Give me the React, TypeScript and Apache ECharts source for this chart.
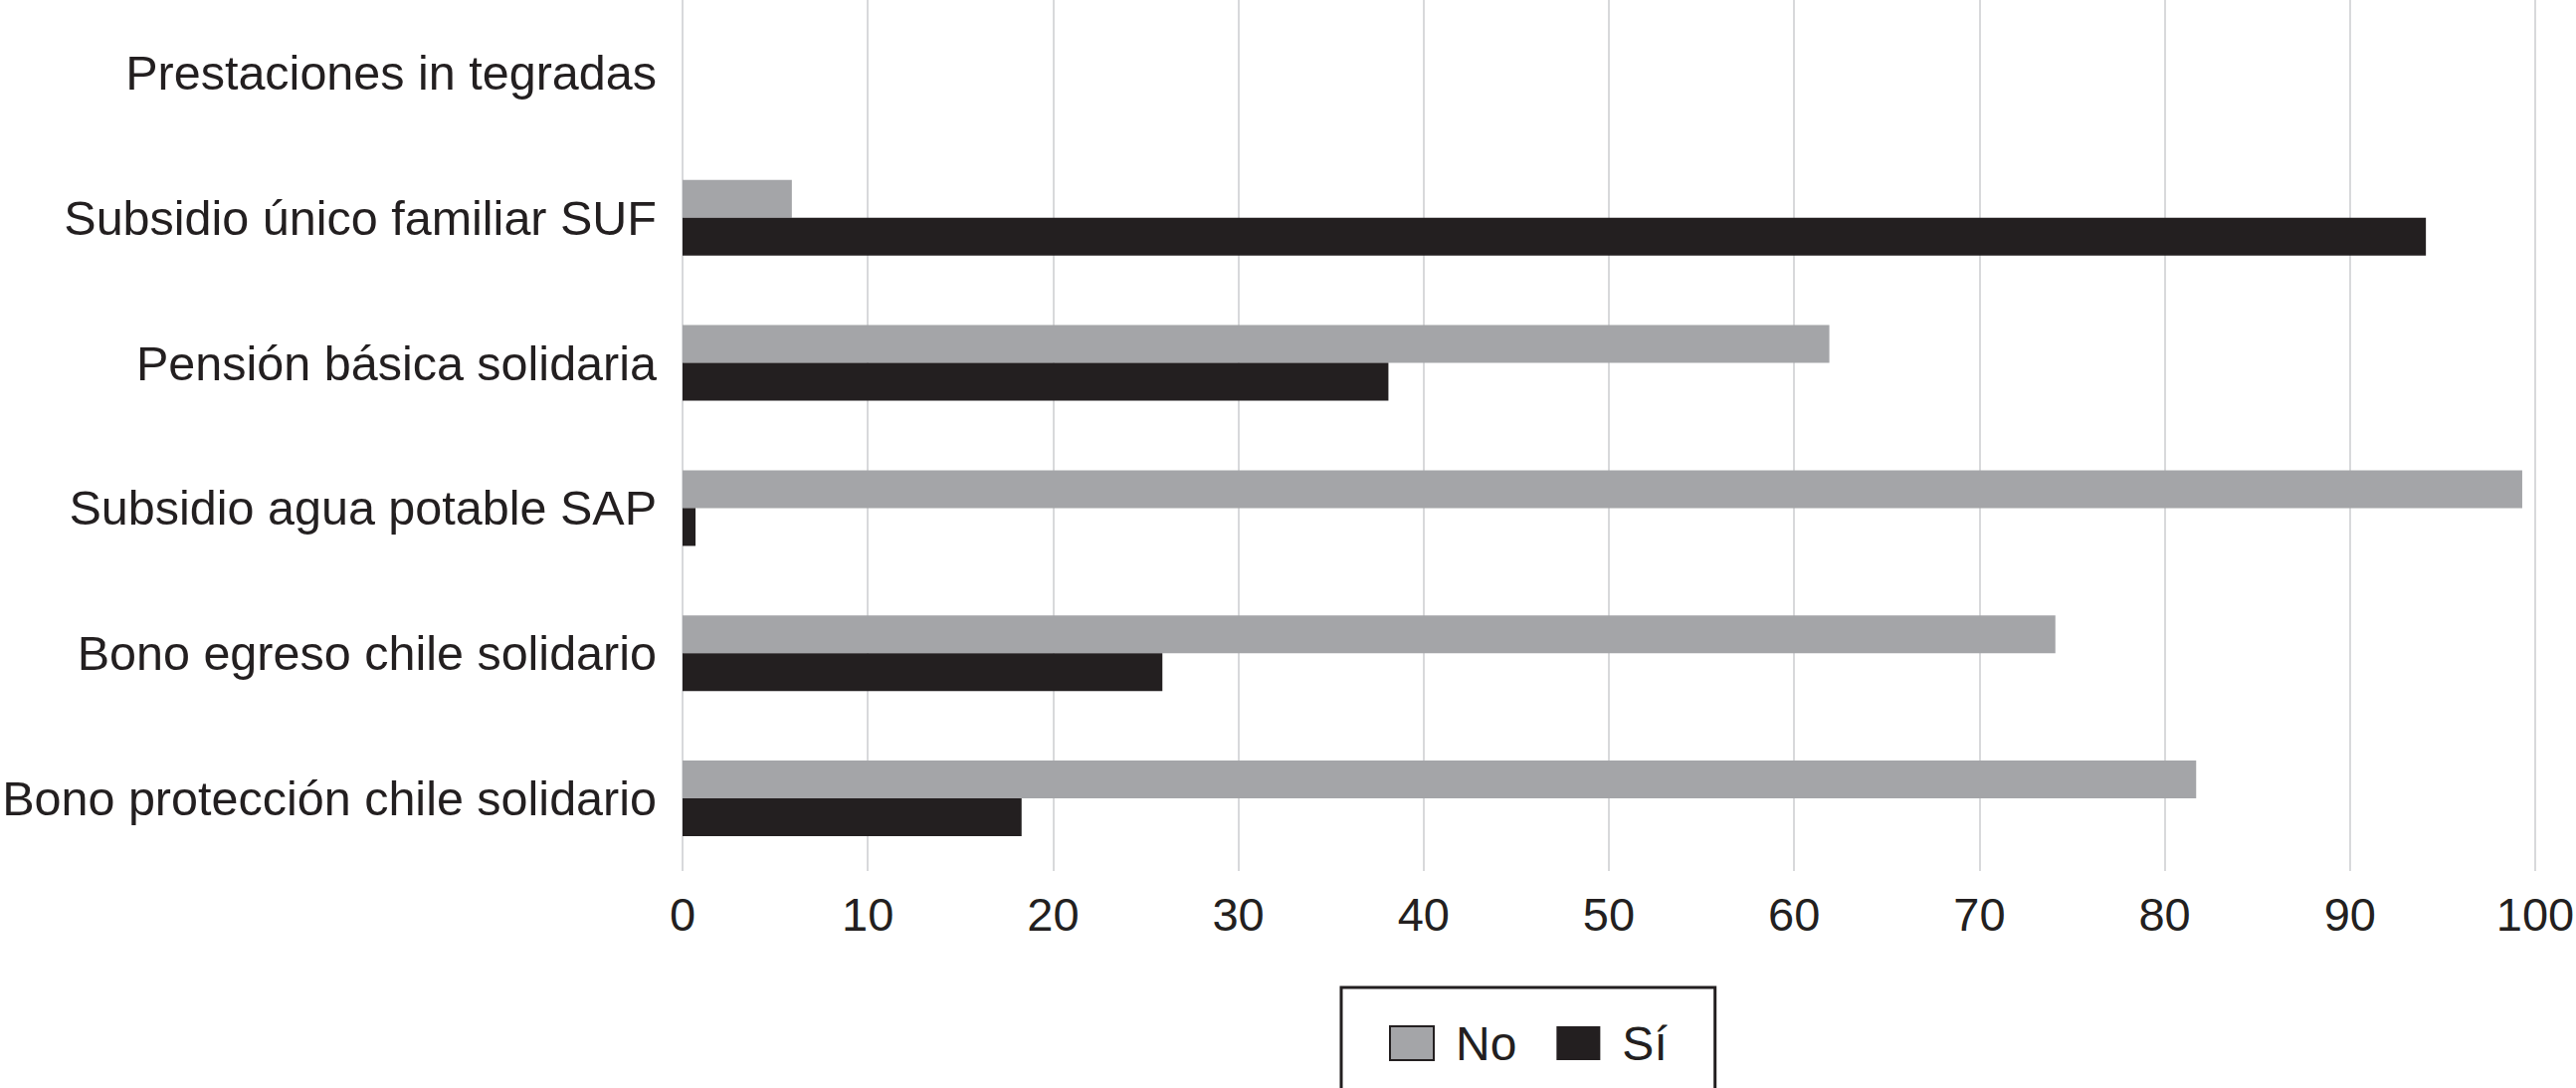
import React, { useEffect, useRef } from "react";
import * as echarts from "echarts";

const categories = [
  "Bono protección chile solidario",
  "Bono egreso chile solidario",
  "Subsidio agua potable SAP",
  "Pensión básica solidaria",
  "Subsidio único familiar SUF",
  "Prestaciones in tegradas",
];
const noValues = [81.7, 74.1, 99.3, 61.9, 5.9, null];
const siValues = [18.3, 25.9, 0.7, 38.1, 94.1, null];
const seriesNames = ["No", "Sí"];
const xTicks = { min: 0, max: 100, interval: 10 };

const FONT = "'Liberation Sans', Arial, sans-serif";
const GRAY = "#a4a5a8";
const BLACK = "#231f20";

export default function App() {
  const ref = useRef<HTMLDivElement>(null);
  useEffect(() => {
    if (!ref.current) return;
    const chart = echarts.init(ref.current, null, { renderer: "svg" });
    chart.setOption({
      animation: false,
      backgroundColor: "#ffffff",
      grid: {
        left: 686,
        right: 41,
        top: 0,
        bottom: 218,
        containLabel: false,
        outerBoundsMode: "none",
      },
      legend: {
        left: 1348,
        top: 992,
        orient: "horizontal",
        data: [
          { name: seriesNames[0], itemStyle: { borderColor: BLACK, borderWidth: 2 } },
          { name: seriesNames[1] },
        ],
        icon: "rect",
        itemWidth: 44,
        itemHeight: 34,
        itemGap: 40,
        padding: [32, 48, 32, 48],
        borderColor: BLACK,
        borderWidth: 3,
        textStyle: {
          fontFamily: FONT,
          fontSize: 48,
          color: BLACK,
          padding: [0, 0, 0, 17],
        },
      },
      xAxis: {
        type: "value",
        min: xTicks.min,
        max: xTicks.max,
        interval: xTicks.interval,
        axisLine: { show: false },
        axisTick: { show: false },
        splitLine: { show: true, lineStyle: { color: "#d8d9db", width: 2 } },
        axisLabel: { fontFamily: FONT, fontSize: 47, color: BLACK, margin: 20 },
      },
      yAxis: {
        type: "category",
        data: categories,
        axisLine: { show: false },
        axisTick: { show: false },
        splitLine: { show: false },
        axisLabel: { fontFamily: FONT, fontSize: 48.5, color: BLACK, margin: 26 },
      },
      series: [
        {
          name: seriesNames[0],
          type: "bar",
          data: noValues,
          barWidth: 38,
          barGap: "0%",
          itemStyle: { color: GRAY },
        },
        {
          name: seriesNames[1],
          type: "bar",
          data: siValues,
          barWidth: 38,
          barGap: "0%",
          itemStyle: { color: BLACK },
        },
      ],
    });
    return () => chart.dispose();
  }, []);
  return (
    <div
      ref={ref}
      style={{ position: "fixed", left: 0, top: 0, width: 2589, height: 1093 }}
    />
  );
}
